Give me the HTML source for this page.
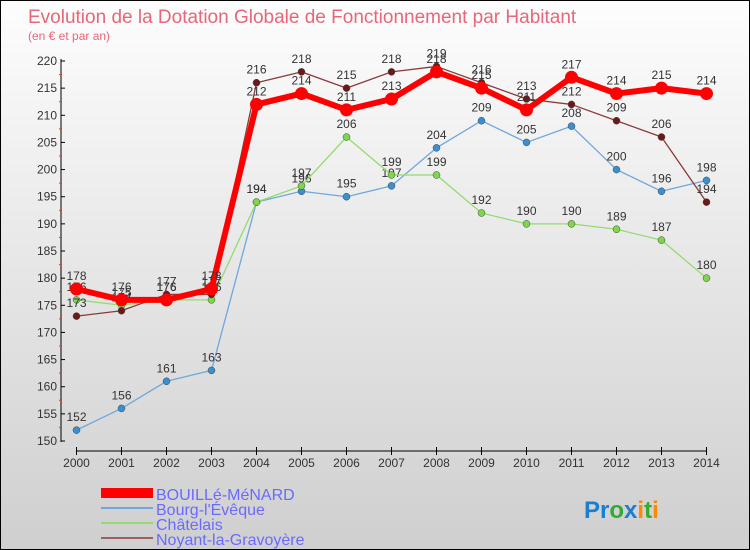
<!DOCTYPE html>
<html><head><meta charset="utf-8"><style>
body{margin:0}
#c{position:relative;width:750px;height:550px;box-sizing:border-box;border:1px solid #000;background:linear-gradient(#fdfdfd,#cfcfcf);font-family:"Liberation Sans",sans-serif;overflow:hidden}
</style></head><body>
<div id="c">
<svg id="s" width="750" height="550" style="position:absolute;left:0;top:0">
<text x="27" y="22" font-size="19" fill="#e8667a">Evolution de la Dotation Globale de Fonctionnement par Habitant</text>
<text x="27" y="39" font-size="12" fill="#e8667a">(en € et par an)</text>
<g id="axes"></g><g id="series"></g>
<g>
<rect x="100" y="487" width="52" height="10" fill="#f00"/>
<text x="155" y="499" font-size="16" fill="#6a6aff">BOUILLé-MéNARD</text>
<line x1="100" y1="507" x2="152" y2="507" stroke="#6fa8dc" stroke-width="2"/>
<text x="155" y="514" font-size="16" fill="#6a6aff">Bourg-l'Évêque</text>
<line x1="100" y1="522" x2="152" y2="522" stroke="#93dc6f" stroke-width="2"/>
<text x="155" y="529" font-size="16" fill="#6a6aff">Châtelais</text>
<line x1="100" y1="537" x2="152" y2="537" stroke="#9c6060" stroke-width="2"/>
<text x="155" y="544" font-size="16" fill="#6a6aff">Noyant-la-Gravoyère</text>
</g>
<text x="583" y="517" font-size="24" font-weight="bold"><tspan fill="#1a7fd0">Pr</tspan><tspan fill="#3a3">o</tspan><tspan fill="#1a7fd0">x</tspan><tspan fill="#f80">i</tspan><tspan fill="#3a3">t</tspan><tspan fill="#f80">i</tspan></text>
</svg>
</div>
<script>
const years=[2000,2001,2002,2003,2004,2005,2006,2007,2008,2009,2010,2011,2012,2013,2014];
const yTicks=[150,155,160,165,170,175,180,185,190,195,200,205,210,215,220];
const bouille=[178,176,176,178,212,214,211,213,218,215,211,217,214,215,214];
const bourg=[152,156,161,163,194,196,195,197,204,209,205,208,200,196,198];
const chatelais=[176,175,176,176,194,197,206,199,199,192,190,190,189,187,180];
const noyant=[173,174,177,177,216,218,215,218,219,216,213,212,209,206,194];
const NS="http://www.w3.org/2000/svg";
const X=i=>75.5+i*(705.5-75.5)/14;
const Y=v=>440-(v-150)*(380/70);
function mk(tag,attrs,parent){const e=document.createElementNS(NS,tag);for(const k in attrs)e.setAttribute(k,attrs[k]);parent.appendChild(e);return e;}
const ax=document.getElementById('axes');
const yl=mk('line',{x1:60,y1:58,x2:60,y2:441,stroke:'#000'},ax);


const xl=mk('line',{x1:75,y1:450,x2:706,y2:450,stroke:'#000'},ax);


yTicks.forEach(v=>{
 mk('line',{x1:60,y1:Y(v),x2:64,y2:Y(v),stroke:'#000'},ax);
 if(v<220)mk('line',{x1:58,y1:Y(v+2.5),x2:61,y2:Y(v+2.5),stroke:'#e33'},ax);
 const t=mk('text',{x:56,y:Y(v)+4,'font-size':12,'text-anchor':'end',fill:'#333'},ax);t.textContent=v;
 
 
});
years.forEach((y,i)=>{
 mk('line',{x1:X(i),y1:446,x2:X(i),y2:454,stroke:'#000'},ax);
 const t=mk('text',{x:X(i),y:466,'font-size':12,'text-anchor':'middle',fill:'#333'},ax);t.textContent=y;
 
 
});
const sg=document.getElementById('series');
function draw(data,color,w,r,name,dot){
 const g=mk('g',{},sg);
 
 
 mk('polyline',{points:data.map((v,i)=>X(i)+','+Y(v)).join(' '),fill:'none',stroke:color,'stroke-width':w,'stroke-linejoin':'round'},g);
 data.forEach((v,i)=>{
  const c=mk('circle',{cx:X(i),cy:Y(v),r:r,fill:dot,stroke:'#444','stroke-width':r>5?0:0.5},g);
  
  
  const t=mk('text',{x:X(i),y:Y(v)-9,'font-size':12,'text-anchor':'middle',fill:'#333'},g);t.textContent=v;
  
  
 });
}
draw(bourg,'#6fa8dc',1.3,3.5,'bourg','#3a8fd0');
draw(chatelais,'#93dc6f',1.3,3.5,'chatelais','#7ed64a');
draw(noyant,'#8b3a3a',1.3,3.5,'noyant','#6b1a1a');
draw(bouille,'#f00',6,6.5,'bouille','#f00');
</script>
</body></html>
